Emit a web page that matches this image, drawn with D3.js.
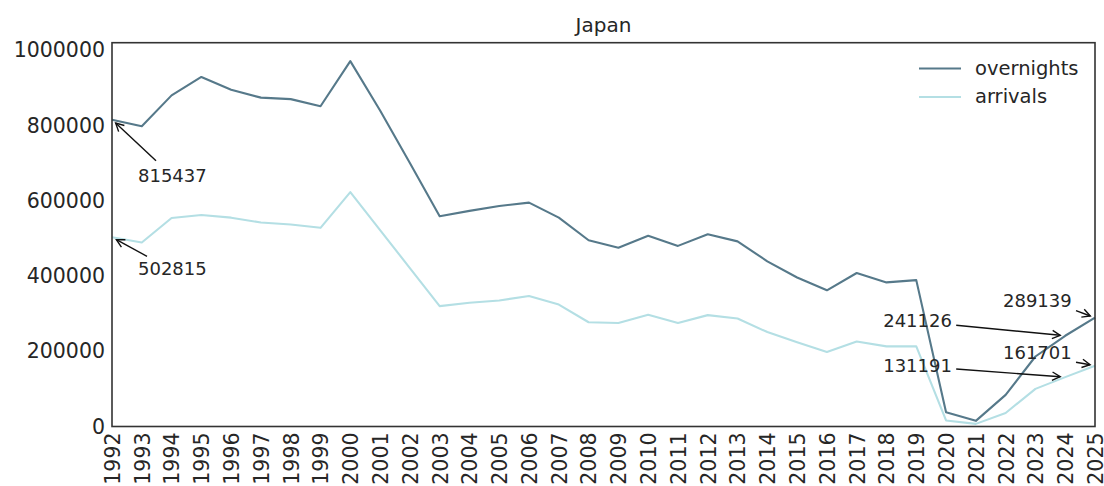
<!DOCTYPE html>
<html>
<head>
<meta charset="utf-8">
<script src="https://cdn.jsdelivr.net/npm/d3@7"></script>
<style>
  html, body { margin: 0; padding: 0; background: #fff; }
  svg { display: block; font-family: "DejaVu Sans", sans-serif; }
</style>
</head>
<body>
<svg id="chart" width="1104" height="486"></svg>
<script>
const years = [1992,1993,1994,1995,1996,1997,1998,1999,2000,2001,2002,2003,2004,2005,2006,2007,2008,2009,2010,2011,2012,2013,2014,2015,2016,2017,2018,2019,2020,2021,2022,2023,2024,2025];
const overnights = [815437,798000,880000,929000,895000,874000,870000,851000,971000,840000,700000,559000,573000,586000,595000,555000,495000,475000,507000,480000,511000,492000,439000,396000,362000,408000,383000,389000,38000,15000,84000,186000,241126,289139];
const arrivals = [502815,489000,554000,562000,555000,542000,537000,528000,623000,522000,421000,320000,329000,335000,347000,324000,277000,275000,297000,275000,296000,287000,251000,224000,198000,226000,213000,213000,16000,7000,36000,100000,131191,161701];
const yTicks = [0,200000,400000,600000,800000,1000000];
const seriesNames = ["overnights","arrivals"];
const title = "Japan";

// annotations: year, series index, text offset, arrow tail offset (px)
const annotations = [
  {year:1992, s:0, tdx:26, tdy:62, adx:44, ady:41},
  {year:1992, s:1, tdx:26, tdy:38, adx:35, ady:19},
  {year:2025, s:0, tdx:-92, tdy:-11, adx:-19, ady:-7},
  {year:2024, s:0, tdx:-182, tdy:-9, adx:-109, ady:-10.5},
  {year:2025, s:1, tdx:-92, tdy:-6.5, adx:-19, ady:-3.4},
  {year:2024, s:1, tdx:-182, tdy:-5, adx:-109, ady:-8.2}
];

const colors = ["#56798a", "#b4dfe4"];
const textColor = "#262626";
const L = 112, R = 1095, T = 42.7, B = 426.5;

const svg = d3.select("#chart");
const x = d3.scaleLinear().domain([1992, 2025]).range([L, R]);
const y = d3.scaleLinear().domain([0, 1020000]).range([B, T]);
const data = [overnights, arrivals];

// marker
svg.append("defs").append("marker")
  .attr("id", "arrow").attr("markerUnits", "userSpaceOnUse")
  .attr("viewBox", "-10 -6 12 12").attr("refX", 0).attr("refY", 0)
  .attr("markerWidth", 12).attr("markerHeight", 12).attr("orient", "auto")
  .append("path").attr("d", "M-8,-4.2 L0,0 L-8,4.2")
  .attr("fill", "none").attr("stroke", "#111").attr("stroke-width", 1.4);

// lines
const line = d3.line().x((d, i) => x(years[i])).y(d => y(d));
data.forEach((vals, si) => {
  svg.append("path").datum(vals)
    .attr("d", line).attr("fill", "none")
    .attr("stroke", colors[si]).attr("stroke-width", 2.1)
    .attr("stroke-linejoin", "round");
});

// axes
const yAxis = d3.axisLeft(y).tickValues(yTicks).tickSize(0).tickPadding(7).tickFormat(d3.format("d"));
const gy = svg.append("g").attr("transform", `translate(${L},0)`).call(yAxis);
gy.select(".domain").remove();
gy.selectAll("text").attr("font-size", "20.5px").attr("fill", textColor).attr("font-family", "DejaVu Sans");

const xAxis = d3.axisBottom(x).tickValues(years).tickSize(0).tickFormat(d3.format("d"));
const gx = svg.append("g").attr("transform", `translate(0,${B})`).call(xAxis);
gx.select(".domain").remove();
gx.selectAll("text")
  .attr("font-size", "20.5px").attr("fill", textColor).attr("font-family", "DejaVu Sans")
  .attr("text-anchor", "end")
  .attr("transform", "rotate(-90)")
  .attr("x", -6).attr("y", 0).attr("dy", "0.36em");

// frame
svg.append("rect").attr("x", L).attr("y", T).attr("width", R - L).attr("height", B - T)
  .attr("fill", "none").attr("stroke", "#333").attr("stroke-width", 1.6);

// title
svg.append("text").attr("x", (L + R) / 2).attr("y", 31.5).attr("text-anchor", "middle")
  .attr("font-size", "20px").attr("fill", textColor).text(title);

// legend
const lg = svg.append("g");
seriesNames.forEach((n, i) => {
  const ly = 68.5 + i * 28.5;
  lg.append("line").attr("x1", 919).attr("x2", 961).attr("y1", ly).attr("y2", ly)
    .attr("stroke", colors[i]).attr("stroke-width", 2.1);
  lg.append("text").attr("x", 975).attr("y", ly + 6).attr("font-size", "19.5px")
    .attr("fill", textColor).text(n);
});

// annotations
annotations.forEach(a => {
  const i = years.indexOf(a.year);
  const v = data[a.s][i];
  const px = x(a.year), py = y(v);
  const tx = px + a.adx, ty = py + a.ady;
  const dx = px - tx, dy = py - ty, len = Math.hypot(dx, dy);
  const shrink = 5;
  const hx = px - dx / len * shrink, hy = py - dy / len * shrink;
  svg.append("line").attr("x1", tx).attr("y1", ty).attr("x2", hx).attr("y2", hy)
    .attr("stroke", "#111").attr("stroke-width", 1.4).attr("marker-end", "url(#arrow)");
  svg.append("text").attr("x", px + a.tdx).attr("y", py + a.tdy)
    .attr("font-size", "18px").attr("fill", textColor).text(String(v));
});
</script>
</body>
</html>
